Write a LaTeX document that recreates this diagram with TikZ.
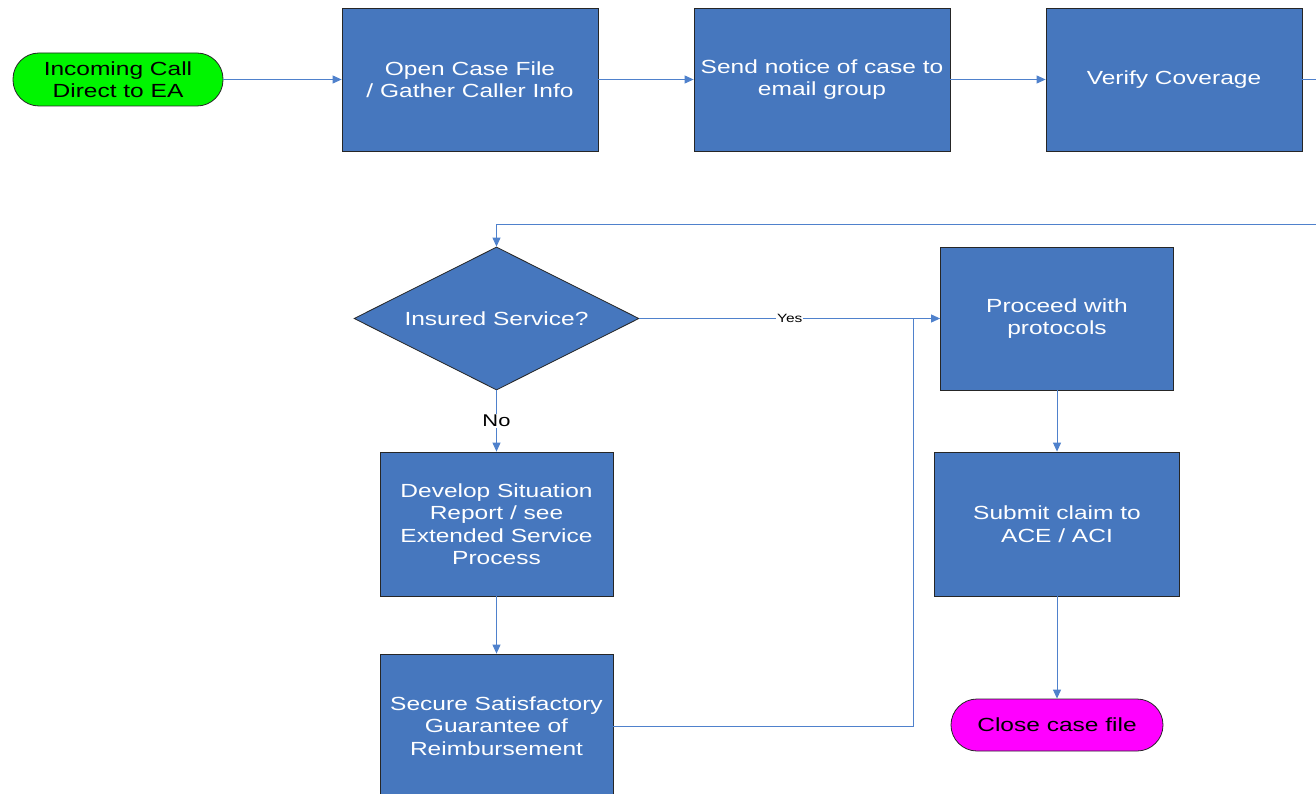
\documentclass[tikz,border=0pt]{standalone}
\usepackage{fontspec}
\setmainfont{Liberation Sans}[FakeStretch=1.29]
\usetikzlibrary{shapes.geometric,arrows.meta}
\definecolor{boxblue}{RGB}{70,119,190}
\definecolor{linkblue}{RGB}{79,129,204}
\definecolor{startgreen}{RGB}{0,245,0}
\definecolor{endmagenta}{RGB}{255,0,255}
\begin{document}
\begin{tikzpicture}[x=1pt,y=-1pt,
	procbox/.style={draw=black!85, line width=0.8pt, fill=boxblue, text=white, align=center,
		font=\fontsize{19}{22.5}\selectfont, inner sep=2pt},
	decision/.style={diamond, aspect=2, draw=black!85, line width=0.8pt, fill=boxblue, text=white,
		font=\fontsize{19}{22.5}\selectfont, inner sep=0pt, minimum width=285pt, minimum height=143pt},
	terminal/.style={draw=black!85, line width=0.8pt, rounded corners=26pt, align=center,
		font=\fontsize{19}{22.5}\selectfont, minimum height=53pt},
	flow/.style={draw=linkblue, line width=1pt, -{Triangle[length=9pt,width=8pt]}},
	plainflow/.style={draw=linkblue, line width=1pt}]
	
	% Fix the page size
	\useasboundingbox (0,0) rectangle (1316,794);
	\clip (0,0) rectangle (1316,794);
	
	% Draw the top row
	\node[terminal, fill=startgreen, minimum width=210pt] (incoming) at (118,79.5) {Incoming Call\\Direct to EA};
	\node[procbox, minimum width=256pt, minimum height=143pt] (opencase) at (470,79.5) {Open Case File\\/ Gather Caller Info};
	\node[procbox, minimum width=256pt, minimum height=143pt] (notice) at (822,79.5) {Send notice of case to\\email group};
	\node[procbox, minimum width=256pt, minimum height=143pt] (verify) at (1174,79.5) {Verify Coverage};
	
	% Draw the decision
	\node[decision] (insured) at (496.5,318.5) {Insured Service?};
	
	% Draw the yes branch
	\node[procbox, minimum width=233pt, minimum height=143pt] (proceed) at (1057,318.5) {Proceed with\\protocols};
	\node[procbox, minimum width=245pt, minimum height=144pt] (submit) at (1057,524) {Submit claim to\\ACE / ACI};
	\node[terminal, fill=endmagenta, minimum width=212pt, minimum height=52pt] (closefile) at (1057,725) {Close case file};
	
	% Draw the no branch
	\node[procbox, minimum width=233pt, minimum height=144pt] (develop) at (496.5,524) {Develop Situation\\Report / see\\Extended Service\\Process};
	\node[procbox, minimum width=233pt, minimum height=144pt] (secure) at (496.5,726) {Secure Satisfactory\\Guarantee of\\Reimbursement};
	
	% Helper points for the bends
	\coordinate (loop) at (1345,225);
	\coordinate (join) at (913,318.5);
	
	% Draw the connectors
	\draw[flow] (incoming) -- (opencase);
	\draw[flow] (opencase) -- (notice);
	\draw[flow] (notice) -- (verify);
	\draw[plainflow] (verify.east) -| (loop);
	\draw[flow] (loop) -| (insured.north);
	\draw[flow] (insured.east) -- node[fill=white, inner sep=1pt, font=\fontsize{12}{14}\selectfont] {Yes} (proceed.west);
	\draw[flow] (insured.south) -- node[fill=white, inner sep=1pt, font=\fontsize{17}{20}\selectfont] {No} (develop.north);
	\draw[flow] (develop) -- (secure);
	\draw[plainflow] (secure.east) -| (join);
	\draw[flow] (proceed) -- (submit);
	\draw[flow] (submit) -- (closefile);
	
\end{tikzpicture}
\end{document}
